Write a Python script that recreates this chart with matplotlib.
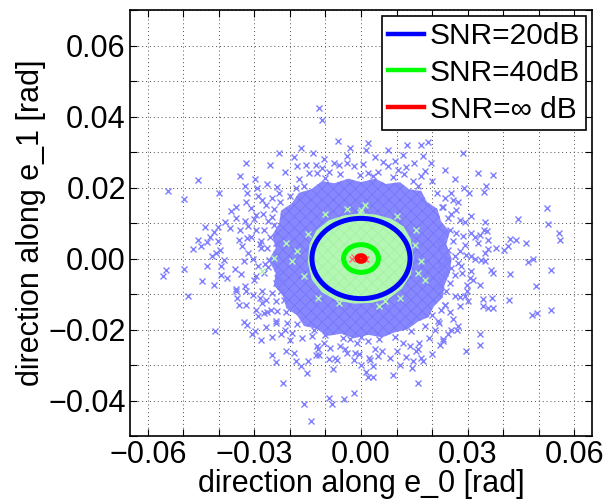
import matplotlib
matplotlib.use("Agg")
import matplotlib.pyplot as plt
from matplotlib.patches import Ellipse, Polygon
from matplotlib.ticker import MultipleLocator, FuncFormatter
from matplotlib.lines import Line2D

plt.rcParams['font.family'] = ['Liberation Sans', 'DejaVu Sans']
plt.rcParams['hatch.linewidth'] = 0.5

# ---------------- data ----------------
# SNR = 20 dB: individually visible samples (outer part of the cloud)
blue_x = [-0.0231,-0.0324,-0.0257,-0.0341,-0.0460,-0.0543,-0.0497,-0.0399,-0.0327,-0.0320,-0.0298,-0.0292,-0.0325,-0.0351,-0.0366,-0.0352,-0.0309,-0.0296,-0.0327,-0.0318,-0.0383,-0.0401,-0.0368,-0.0439,-0.0415,-0.0424,-0.0459,-0.0472,-0.0450,-0.0432,-0.0401,-0.0397,-0.0418,-0.0407,-0.0385,-0.0343,-0.0320,-0.0334,-0.0317,-0.0329,-0.0548,-0.0558,-0.0499,-0.0434,-0.0447,-0.0413,-0.0394,-0.0394,-0.0376,-0.0338,-0.0351,-0.0326,-0.0296,-0.0289,-0.0296,-0.0273,-0.0278,-0.0250,-0.0236,-0.0250,-0.0282,-0.0273,-0.0240,-0.0220,
          -0.0262,-0.0255,-0.0265,-0.0258,-0.0262,-0.0245,-0.0240,-0.0235,-0.0245,-0.0228,-0.0232,-0.0268,-0.0275,-0.0280,-0.0270,
          -0.0065,0.0021,0.0013,0.0130,0.0170,0.0189,-0.0136,-0.0189,0.0119,0.0063,0.0077,0.0126,0.0198,0.0180,0.0170,0.0122,0.0145,0.0200,0.0231,-0.0156,-0.0128,-0.0147,-0.0124,-0.0091,-0.0063,-0.0040,-0.0021,-0.0002,0.0021,0.0049,-0.0161,-0.0184,
          -0.0100,-0.0060,0.0035,0.0090,-0.0175,0.0105,-0.0110,0.0160,-0.0200,0.0215,-0.0117,-0.0110,
          0.0287,0.0329,0.0371,0.0351,0.0345,0.0303,0.0522,0.0443,0.0348,0.0527,0.0558,0.0561,0.0418,0.0436,0.0464,0.0334,0.0355,0.0357,0.0329,0.0357,0.0380,0.0401,0.0415,0.0348,0.0338,0.0348,0.0471,0.0483,0.0534,0.0365,0.0371,0.0418,0.0492,0.0310,0.0292,0.0310,0.0306,0.0299,0.0310,
          0.0254,0.0236,0.0259,0.0273,0.0228,0.0268,0.0254,0.0245,0.0278,0.0250,0.0236,0.0268,0.0287,0.0226,0.0259,0.0292,0.0222,0.0245,0.0278,0.0231,0.0264,0.0296,0.0240,0.0273,0.0226,0.0254,0.0282,0.0236,0.0264,0.0226,0.0250,0.0222,
          0.0240,0.0264,0.0278,0.0292,0.0299,0.0278,0.0236,0.0226,0.0250,0.0220,0.0254,0.0273,0.0245,0.0231,0.0222,0.0296,0.0334,0.0334,0.0343,0.0368,0.0343,0.0357,0.0371,0.0416,0.0481,0.0494,0.0534,
          -0.0486,-0.0411,-0.0352,-0.0348,-0.0343,-0.0324,-0.0324,-0.0304,-0.0296,-0.0289,-0.0273,-0.0278,-0.0268,-0.0278,-0.0250,-0.0240,-0.0226,-0.0217,-0.0236,-0.0254,-0.0329,-0.0320,-0.0298,-0.0306,-0.0282,-0.0268,-0.0250,-0.0238,-0.0226,-0.0214,-0.0208,-0.0250,-0.0239,-0.0219,
          -0.0189,-0.0184,-0.0170,-0.0152,-0.0161,-0.0142,-0.0128,-0.0119,-0.0124,-0.0105,-0.0086,-0.0091,-0.0072,-0.0068,-0.0058,-0.0044,-0.0030,-0.0012,-0.0016,-0.0007,-0.0021,0.0021,0.0023,0.0024,0.0049,0.0060,0.0082,0.0035,0.0013,0.0021,0.0035,0.0089,-0.0021,-0.0049,-0.0089,-0.0082,0.0119,0.0138,0.0163,0.0156,0.0161,0.0127,0.0147,0.0144,0.0169,0.0175,0.0159,0.0208,0.0217,0.0231,0.0236,-0.0194,-0.0166,-0.0138,-0.0133,
          -0.0100,-0.0050,0.0000,0.0050,0.0095,0.0140,0.0180,-0.0180,-0.0210,0.0200,
          # fringe of the dense part
          -0.0215,-0.0180,-0.0105,-0.0040,0.0040,0.0095,0.0150,0.0235,0.0265,-0.0265,-0.0290,0.0290,0.0005,-0.0075,0.0175,-0.0170,0.0075,-0.0030,
          -0.0300,-0.0310,-0.0305,-0.0300,-0.0285,0.0310,0.0320,0.0320,0.0315,0.0300,-0.0285,0.0285,-0.0340,0.0345,0.0335,-0.0355,
          -0.0240,-0.0200,-0.0120,-0.0040,0.0040,0.0100,0.0190,0.0260,-0.0265,0.0000,-0.0080,0.0110,0.0200,-0.0210,0.0270,-0.0150]
blue_y = [0.0298,0.0268,0.0264,0.0233,0.0221,0.0191,0.0167,0.0184,0.0205,0.0184,0.0223,0.0198,0.0160,0.0144,0.0135,0.0113,0.0142,0.0123,0.0107,0.0092,0.0104,0.0088,0.0086,0.0090,0.0076,0.0060,0.0053,0.0027,0.0036,0.0046,0.0048,0.0025,0.0006,0.0015,-0.0003,0.0053,0.0058,0.0034,0.0015,-0.0008,-0.0033,-0.0050,-0.0029,-0.0022,-0.0063,-0.0076,-0.0022,-0.0046,-0.0055,-0.0044,-0.0085,-0.0078,-0.0050,-0.0022,0.0081,0.0081,0.0165,0.0170,0.0202,0.0118,0.0029,-0.0041,-0.0069,-0.0064,
          0.0105,0.0060,0.0030,-0.0005,-0.0025,0.0140,0.0045,-0.0040,0.0095,0.0160,0.0185,0.0150,0.0125,0.0050,-0.0015,
          0.0332,0.0326,0.0306,0.0320,0.0319,0.0329,0.0298,0.0287,0.0292,0.0273,0.0261,0.0259,0.0270,0.0247,0.0233,0.0238,0.0219,0.0219,0.0146,0.0263,0.0263,0.0240,0.0240,0.0245,0.0263,0.0268,0.0261,0.0235,0.0240,0.0245,0.0203,0.0198,
          0.0228,0.0238,0.0232,0.0230,0.0225,0.0248,0.0255,0.0205,0.0175,0.0185,0.0425,0.0390,
          0.0298,0.0240,0.0236,0.0203,0.0187,0.0184,0.0142,0.0112,0.0104,0.0098,0.0072,0.0053,0.0056,0.0053,0.0044,0.0067,0.0078,0.0053,0.0045,0.0028,0.0029,0.0025,0.0034,0.0015,-0.0003,-0.0008,-0.0009,-0.0001,-0.0033,-0.0033,-0.0041,-0.0044,-0.0078,0.0073,0.0104,-0.0036,-0.0055,-0.0074,0.0006,
          0.0184,0.0170,0.0165,0.0160,0.0146,0.0137,0.0126,0.0114,0.0109,0.0081,0.0076,0.0072,0.0062,0.0053,0.0048,0.0039,0.0034,0.0025,0.0020,0.0011,0.0006,0.0011,-0.0003,-0.0013,-0.0017,-0.0027,-0.0022,-0.0041,-0.0046,-0.0060,-0.0069,-0.0078,
          -0.0092,-0.0106,-0.0108,-0.0106,-0.0092,-0.0133,-0.0130,-0.0144,-0.0151,-0.0181,-0.0200,-0.0191,-0.0214,-0.0233,-0.0245,-0.0261,-0.0214,-0.0245,-0.0114,-0.0110,-0.0133,-0.0139,-0.0139,-0.0116,-0.0158,-0.0153,-0.0144,
          -0.0106,-0.0205,-0.0092,-0.0111,-0.0130,-0.0130,-0.0092,-0.0104,-0.0144,-0.0163,-0.0153,-0.0125,-0.0116,-0.0092,-0.0097,-0.0121,-0.0092,-0.0116,-0.0149,-0.0146,-0.0179,-0.0186,-0.0205,-0.0214,-0.0230,-0.0192,-0.0221,-0.0183,-0.0214,-0.0200,-0.0181,-0.0273,-0.0292,-0.0352,
          -0.0265,-0.0289,-0.0303,-0.0322,-0.0411,-0.0458,-0.0272,-0.0273,-0.0247,-0.0237,-0.0251,-0.0284,-0.0279,-0.0286,-0.0247,-0.0256,-0.0228,-0.0237,-0.0265,-0.0270,-0.0287,-0.0233,-0.0279,-0.0287,-0.0275,-0.0261,-0.0279,-0.0303,-0.0320,-0.0333,-0.0333,-0.0329,-0.0378,-0.0395,-0.0392,-0.0411,-0.0237,-0.0247,-0.0239,-0.0261,-0.0256,-0.0278,-0.0289,-0.0308,-0.0279,-0.0289,-0.0352,-0.0200,-0.0177,-0.0228,-0.0130,-0.0209,-0.0223,-0.0219,-0.0200,
          -0.0215,-0.0225,-0.0222,-0.0228,-0.0222,-0.0205,-0.0190,-0.0185,-0.0150,-0.0160,
          0.0245,0.0260,0.0280,0.0290,0.0285,0.0275,0.0270,0.0250,0.0225,0.0210,0.0175,0.0200,0.0265,0.0270,0.0290,0.0310,0.0305,0.0310,
          0.0110,0.0060,0.0000,-0.0060,-0.0110,0.0120,0.0060,0.0000,-0.0060,-0.0120,0.0040,-0.0040,0.0080,0.0080,-0.0075,-0.0030,
          -0.0175,-0.0230,-0.0255,-0.0265,-0.0255,-0.0260,-0.0225,-0.0170,-0.0150,-0.0300,-0.0310,-0.0300,-0.0270,-0.0260,-0.0200,-0.0290]

# SNR = 20 dB: outline of the saturated (solid) part of the cloud
blue_core_x = [0.0255,0.0240,0.0250,0.0225,0.0215,0.0185,0.0170,0.0135,0.0110,0.0070,0.0040,0.0000,-0.0035,-0.0075,-0.0110,-0.0140,-0.0175,-0.0195,-0.0225,-0.0230,-0.0250,-0.0240,-0.0260,-0.0240,-0.0245,-0.0220,-0.0210,-0.0180,-0.0160,-0.0125,-0.0095,-0.0055,-0.0020,0.0020,0.0060,0.0095,0.0130,0.0160,0.0190,0.0205,0.0230,0.0235,0.0250]
blue_core_y = [0.0000,0.0040,0.0075,0.0105,0.0140,0.0160,0.0190,0.0195,0.0215,0.0210,0.0225,0.0215,0.0225,0.0212,0.0218,0.0195,0.0185,0.0155,0.0135,0.0100,0.0065,0.0030,-0.0005,-0.0040,-0.0075,-0.0105,-0.0140,-0.0160,-0.0190,-0.0198,-0.0218,-0.0212,-0.0225,-0.0215,-0.0222,-0.0208,-0.0200,-0.0178,-0.0165,-0.0135,-0.0110,-0.0075,-0.0040]

# SNR = 40 dB: outline of the solid cloud and visible outliers
green_core_x = [0.0148,0.0140,0.0120,0.0085,0.0040,0.0000,-0.0045,-0.0090,-0.0125,-0.0145,-0.0150,-0.0138,-0.0110,-0.0070,-0.0020,0.0030,0.0080,0.0115,0.0140]
green_core_y = [0.0000,0.0055,0.0090,0.0112,0.0124,0.0127,0.0122,0.0108,0.0080,0.0040,-0.0010,-0.0060,-0.0095,-0.0118,-0.0127,-0.0125,-0.0112,-0.0085,-0.0045]
green_x = [0.0000,-0.0195,-0.0180,-0.0063,0.0068,0.0152,0.0170,0.0180,-0.0245,-0.0212,-0.0278,-0.0002,0.0010,-0.0150,-0.0160,0.0155,0.0160,-0.0100,0.0100,-0.0120,0.0110,0.0050,-0.0040]
green_y = [0.0137,-0.0008,0.0020,-0.0125,-0.0120,0.0039,-0.0008,-0.0060,0.0001,0.0044,-0.0036,0.0132,0.0150,0.0070,-0.0050,0.0080,-0.0040,0.0125,0.0120,-0.0110,-0.0110,-0.0135,0.0140]

# SNR = inf: samples
red_x = [-0.0025,-0.0020,0.0010,0.0013,-0.0005,0.0003]
red_y = [0.0000,0.0003,0.0000,-0.0002,0.0001,-0.0001]

# error ellipses (semi-axes along e_0, e_1)
ell_labels = ['SNR=20dB', 'SNR=40dB', 'SNR=\u221e dB']
ell_a = [0.0138, 0.0049, 0.0011]
ell_b = [0.0113, 0.0039, 0.0008]
ell_colors = ['#0000ff', '#00ff00', '#ff0000']

# ---------------- figure ----------------
W, H = 607, 504
fig = plt.figure(figsize=(W/100, H/100), dpi=100)
L, R, T, B = 130, 592, 10, 436
ax = fig.add_axes([L/W, 1 - B/H, (R-L)/W, (B-T)/H])

c_blue = (0.5, 0.5, 1.0)
c_blue_face = (0.53, 0.53, 1.0)
c_blue_hatch = (0.45, 0.45, 0.97)
c_green = (0.70, 0.97, 0.70)
c_green_hatch = (0.64, 0.94, 0.64)
c_red = (1.0, 0.45, 0.45)

ax.add_patch(Polygon(list(zip(blue_core_x, blue_core_y)), closed=True,
                     facecolor=c_blue_face, edgecolor=c_blue_hatch, lw=0, hatch='xxx', zorder=2))
ax.plot(blue_x, blue_y, ls='none', marker='x', ms=4.2, mew=1.0, color=c_blue, zorder=2)
ax.add_patch(Polygon(list(zip(green_core_x, green_core_y)), closed=True,
                     facecolor=c_green, edgecolor=c_green_hatch, lw=0, hatch='xxx', zorder=3))
ax.plot(green_x, green_y, ls='none', marker='x', ms=4.2, mew=1.0, color=c_green, zorder=3)
ax.plot(red_x, red_y, ls='none', marker='x', ms=4.2, mew=1.0, color=c_red, zorder=4)

handles = []
for a, b, c, lab in zip(ell_a, ell_b, ell_colors, ell_labels):
    ax.add_patch(Ellipse((0, 0), 2*a, 2*b, fill=False, edgecolor=c, lw=3.6, zorder=5))
    handles.append(Line2D([], [], color=c, lw=3.2, label=lab))

ax.set_xlim(-0.065, 0.065)
ax.set_ylim(-0.05, 0.07)

ax.xaxis.set_major_locator(MultipleLocator(0.01))
ax.yaxis.set_major_locator(MultipleLocator(0.01))

def make_fmt(step):
    def f(v, pos):
        k = v / step
        if abs(k - round(k)) > 1e-6:
            return ''
        s = '%.2f' % (round(k) * step)
        if s.startswith('-'):
            s = '\u2212' + s[1:]
        if s == '\u22120.00':
            s = '0.00'
        return s
    return FuncFormatter(f)

FS = 22
ax.xaxis.set_major_formatter(make_fmt(0.03))
ax.yaxis.set_major_formatter(make_fmt(0.02))
ax.tick_params(direction='in', length=5, width=0.8, top=True, right=True,
               labelsize=FS, pad=3)
ax.grid(True, linestyle=(0, (1, 3)), linewidth=0.7, color='0.3')
ax.set_axisbelow(True)
for s in ax.spines.values():
    s.set_linewidth(1.2)

ax.set_xlabel('direction along e_0 [rad]', fontsize=FS, labelpad=-1)
ax.set_ylabel('direction along e_1 [rad]', fontsize=FS, labelpad=2)

leg = ax.legend(handles=handles, loc='upper right',
                bbox_to_anchor=((586 - L) / (R - L), (B - 16) / (B - T)),
                borderaxespad=0, fontsize=21.5, handlelength=1.2, handletextpad=0.18,
                borderpad=0.2, labelspacing=0.3, fancybox=False, framealpha=1,
                edgecolor='black')
leg.get_frame().set_linewidth(1.2)
leg.set_zorder(10)

fig.savefig('out.png', dpi=100)
